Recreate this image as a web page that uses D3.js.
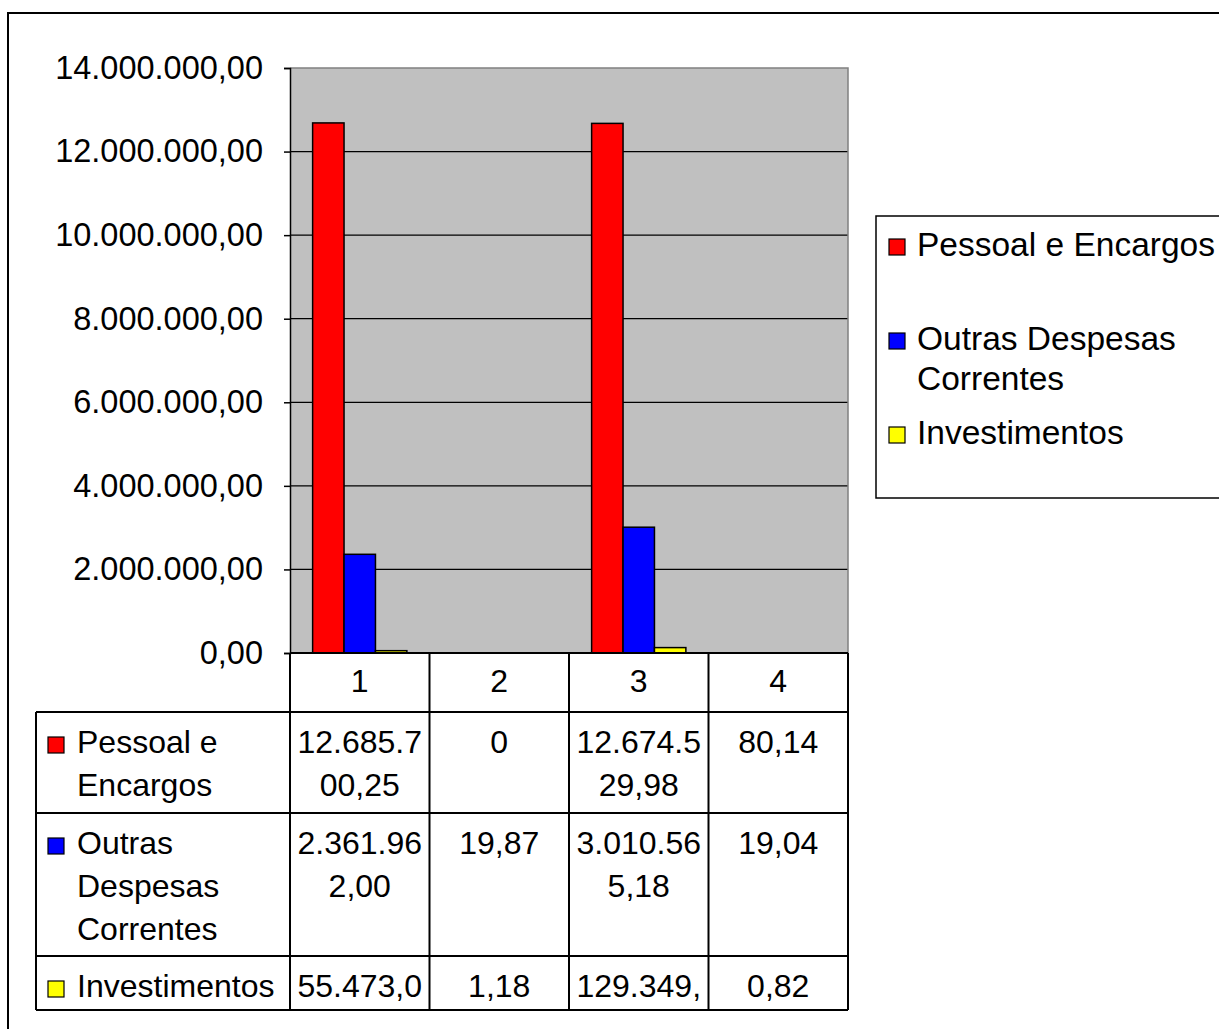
<!DOCTYPE html>
<html><head><meta charset="utf-8">
<script src="https://cdn.jsdelivr.net/npm/d3@7"></script>
<style>body{margin:0;background:#fff}svg{display:block;font-family:"Liberation Sans",Arial,sans-serif}</style>
</head><body><svg id="c" width="1219" height="1029"></svg>
<script>
const categories = ["1","2","3","4"];
const seriesNames = ["Pessoal e Encargos","Outras Despesas Correntes","Investimentos"];
const seriesColors = ["#FF0000","#0000FF","#FFFF00"];
const pessoal = [12685700.25, 0, 12674529.98, 80.14];
const outras = [2361962.00, 19.87, 3010565.18, 19.04];
const investimentos = [55473.04, 1.18, 129349.52, 0.82];
const yTicks = [0,2000000,4000000,6000000,8000000,10000000,12000000,14000000];
const rowLabelLines = [["Pessoal e","Encargos"],["Outras","Despesas","Correntes"],["Investimentos"]];

const seriesValues = [pessoal, outras, investimentos];
const svg = d3.select("#c");
const loc = d3.formatLocale({decimal:",",thousands:".",grouping:[3],currency:["R$",""]});
const fmt = loc.format(",.2f");

const L=290,R=848,T=68,B=653;
// outer frame
svg.append("rect").attr("x",8).attr("y",13).attr("width",1240).attr("height",1040).attr("fill","none").attr("stroke","#000").attr("stroke-width",2);

const x0 = d3.scaleBand().domain(categories).range([L,R]);
const x1 = d3.scaleBand().domain(d3.range(3)).range([0,x0.bandwidth()]).paddingOuter(0.72);
const y = d3.scaleLinear().domain([0,14000000]).range([B,T]);

svg.append("rect").attr("x",L).attr("y",T).attr("width",R-L).attr("height",B-T).attr("fill","#C0C0C0");
// gridlines
svg.append("g").selectAll("line").data(yTicks.slice(1,-1)).join("line")
  .attr("x1",L).attr("x2",R).attr("y1",d=>y(d)).attr("y2",d=>y(d)).attr("stroke","#000").attr("stroke-width",1.2);
// top/right border
svg.append("path").attr("d",`M${L},${T}H${R}V${B}`).attr("fill","none").attr("stroke","#808080").attr("stroke-width",1.5);

// bars
const g = svg.append("g");
categories.forEach((c,ci)=>{
  seriesValues.forEach((vals,si)=>{
    const v = vals[ci];
    if (y(0)-y(v) < 0.5) return;
    g.append("rect").attr("x",x0(c)+x1(si)).attr("y",y(v)).attr("width",x1.bandwidth()).attr("height",y(0)-y(v))
      .attr("fill",seriesColors[si]).attr("stroke","#000").attr("stroke-width",1.5);
  });
});

// y axis
const yAxis = d3.axisLeft(y).tickValues(yTicks).tickFormat(fmt).tickSize(6).tickPadding(21);
const ya = svg.append("g").attr("transform",`translate(${L},0)`).call(yAxis);
ya.select(".domain").attr("stroke","#000").attr("stroke-width",1.5);
ya.selectAll(".tick line").attr("stroke","#000").attr("stroke-width",1.5);
ya.selectAll("text").attr("font-size",32.5).attr("fill","#000").attr("font-family","'Liberation Sans',Arial,sans-serif");

// data table
const rowTops=[712,813,956,1010];
const tbl = svg.append("g").attr("stroke","#000").attr("stroke-width",2);
tbl.append("line").attr("x1",L).attr("x2",R).attr("y1",B).attr("y2",B);
rowTops.forEach(t=>tbl.append("line").attr("x1",36).attr("x2",R).attr("y1",t).attr("y2",t));
tbl.append("line").attr("x1",36).attr("x2",36).attr("y1",712).attr("y2",1010);
[L,...categories.map(c=>x0(c)+x0.bandwidth())].forEach(xv=>tbl.append("line").attr("x1",xv).attr("x2",xv).attr("y1",B).attr("y2",1010));

const fs=32, lh=43;
// header
svg.append("g").selectAll("text").data(categories).join("text")
  .attr("x",d=>x0(d)+x0.bandwidth()/2).attr("y",692).attr("text-anchor","middle").attr("font-size",fs).text(d=>d);

function cellText(v){
  if (v===0) return "0";
  return fmt(v);
}
seriesValues.forEach((vals,si)=>{
  const top = rowTops[si];
  const maxLines = rowLabelLines[si].length>=2 ? 2 : 1;
  // row label
  svg.append("rect").attr("x",48).attr("y",top+25).attr("width",16).attr("height",16)
    .attr("fill",seriesColors[si]).attr("stroke","#000").attr("stroke-width",1.2);
  rowLabelLines[si].forEach((ln,li)=>{
    svg.append("text").attr("x",77).attr("y",top+41+li*lh).attr("font-size",fs).text(ln);
  });
  vals.forEach((v,ci)=>{
    const s = cellText(v);
    const lines=[];
    for(let i=0;i<s.length && lines.length<maxLines;i+=8) lines.push(s.slice(i,i+8));
    lines.forEach((ln,li)=>{
      svg.append("text").attr("x",x0(categories[ci])+x0.bandwidth()/2).attr("y",top+41+li*lh)
        .attr("text-anchor","middle").attr("font-size",fs).text(ln);
    });
  });
});

// legend
svg.append("rect").attr("x",876).attr("y",216).attr("width",400).attr("height",282).attr("fill","#fff").attr("stroke","#000").attr("stroke-width",1.5);
const legendRows=[{lines:["Pessoal e Encargos"],y:256},{lines:["Outras Despesas","Correntes"],y:350},{lines:["Investimentos"],y:444}];
legendRows.forEach((r,i)=>{
  svg.append("rect").attr("x",889).attr("y",r.y-17).attr("width",16).attr("height",16)
    .attr("fill",seriesColors[i]).attr("stroke","#000").attr("stroke-width",1.2);
  r.lines.forEach((ln,li)=>svg.append("text").attr("x",917).attr("y",r.y+li*40).attr("font-size",33.5).text(ln));
});
</script></body></html>
